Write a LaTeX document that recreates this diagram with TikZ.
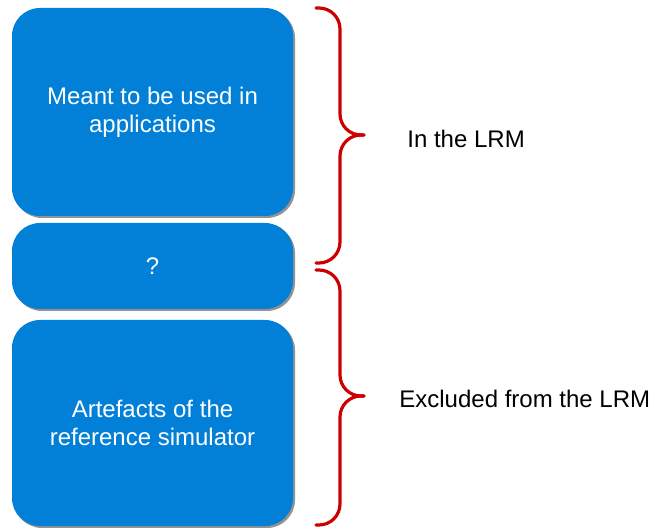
\documentclass[tikz,border=0pt]{standalone}
\usepackage{fontspec}
\setmainfont{Liberation Sans}
\usetikzlibrary{shadows}
\definecolor{boxblue}{RGB}{2,128,216}
\definecolor{bracered}{RGB}{204,0,0}
\tikzstyle{block}=[rectangle, rounded corners=14pt, fill=boxblue, text=white, align=center, inner sep=0pt, minimum width=140.5pt, font=\fontsize{12}{14}\selectfont, drop shadow={shadow xshift=1pt, shadow yshift=-1pt, fill=gray!85, opacity=1}]
\tikzstyle{bracket}=[draw=bracered, line width=1.6pt, rounded corners=10.5pt, line cap=round]
\tikzstyle{side}=[anchor=base west, inner sep=0pt, font=\fontsize{12}{14}\selectfont]

\begin{document}
\begin{tikzpicture}[x=0.5pt, y=-0.5pt]
		   \useasboundingbox (0, 0) rectangle (652, 528);
		   \begin{scope}
			   \node (meant) at (152.5, 112)[block, minimum height=104pt] {Meant to be used in\\applications};
			   \node (unknown) at (152.5, 266)[block, minimum height=43pt] {?};
			   \node (artefacts) at (152.5, 423)[block, minimum height=103pt] {Artefacts of the\\reference simulator};
		   \end{scope}
		   \begin{scope}
			   \coordinate (inTop) at (316, 8);
			   \coordinate (inTip) at (364, 135);
			   \coordinate (inBot) at (316, 263);
			   \coordinate (exTop) at (316, 270);
			   \coordinate (exTip) at (364, 396);
			   \coordinate (exBot) at (316, 525);
			   \draw [bracket] (inTop) -| (340, 135) -- (inTip);
			   \draw [bracket] (inBot) -| (340, 135) -- (inTip);
			   \draw [bracket] (exTop) -| (340, 396) -- (exTip);
			   \draw [bracket] (exBot) -| (340, 396) -- (exTip);
		   \end{scope}
		   \begin{scope}
			   \node (inlrm) at (407, 148)[side] {In the LRM};
			   \node (excluded) at (399, 408)[side] {Excluded from the LRM};
		   \end{scope}
	   \end{tikzpicture}
\end{document}
